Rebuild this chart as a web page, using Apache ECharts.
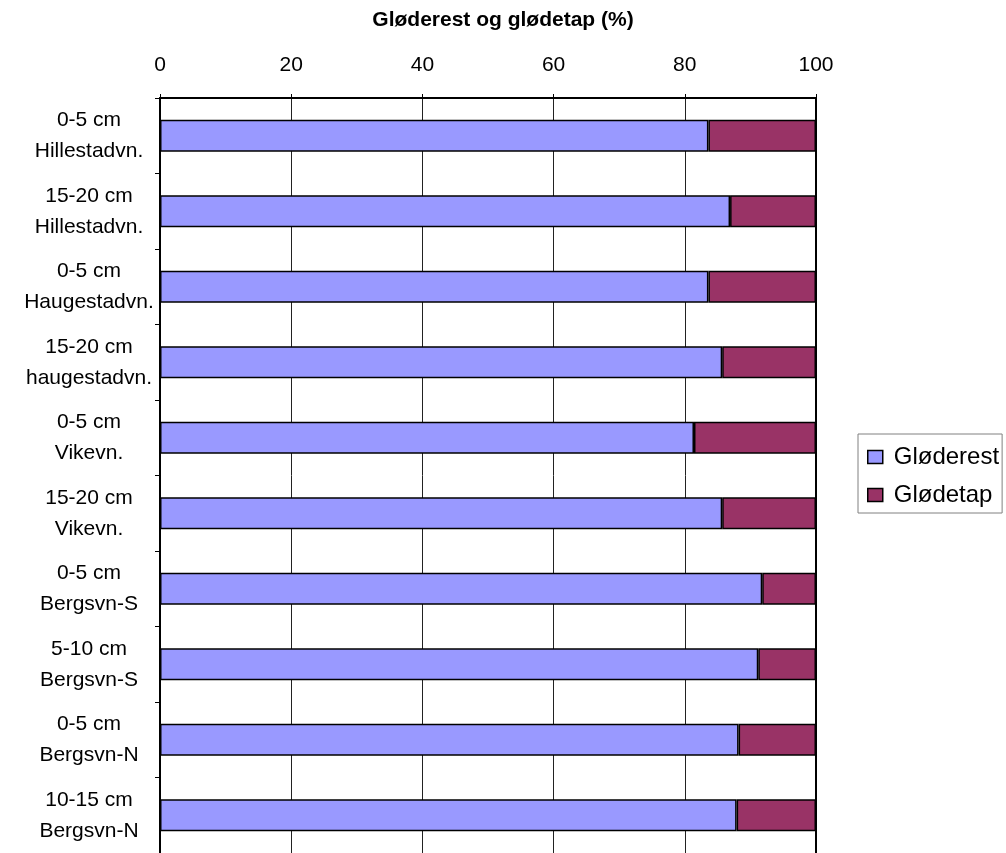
<!DOCTYPE html>
<html>
<head>
<meta charset="utf-8">
<script src="https://cdn.jsdelivr.net/npm/echarts@6/dist/echarts.min.js"></script>
<style>
html,body{margin:0;padding:0;background:#fff;}
#chart{width:1006px;height:853px;}
</style>
</head>
<body>
<div id="chart"></div>
<script>
const categories = [
  "0-5 cm\nHillestadvn.",
  "15-20 cm\nHillestadvn.",
  "0-5 cm\nHaugestadvn.",
  "15-20 cm\nhaugestadvn.",
  "0-5 cm\nVikevn.",
  "15-20 cm\nVikevn.",
  "0-5 cm\nBergsvn-S",
  "5-10 cm\nBergsvn-S",
  "0-5 cm\nBergsvn-N",
  "10-15 cm\nBergsvn-N"
];
const glodeRest = [83.6, 86.9, 83.6, 85.7, 81.4, 85.7, 91.8, 91.2, 88.2, 87.9];
const glodeTap  = [16.4, 13.1, 16.4, 14.3, 18.6, 14.3, 8.2, 8.8, 11.8, 12.1];
const xTicks = [0, 20, 40, 60, 80, 100];

const font = "'Liberation Sans', Arial, sans-serif";
const chart = echarts.init(document.getElementById('chart'));
chart.setOption({
  animation: false,
  backgroundColor: '#fff',
  title: {
    text: 'Gløderest og glødetap (%)',
    left: 'center',
    top: 10,
    padding: 0,
    textStyle: { fontFamily: font, fontSize: 21, fontWeight: 'bold', color: '#000' }
  },
  legend: {
    orient: 'vertical',
    left: 858,
    top: 434,
    padding: [11, 3, 6, 9],
    itemGap: 14,
    itemWidth: 15,
    itemHeight: 13,
    icon: 'rect',
    borderColor: '#808080',
    borderWidth: 1,
    itemStyle: { borderColor: '#000', borderWidth: 1.5 },
    textStyle: { fontFamily: font, fontSize: 24, lineHeight: 24, color: '#000', padding: [0, 0, 0, 6] },
    data: ['Gløderest', 'Glødetap']
  },
  grid: { left: 160, right: 190, top: 98, bottom: -2 },
  xAxis: {
    type: 'value',
    position: 'top',
    min: 0,
    max: 100,
    interval: 20,
    axisLine: { show: true, lineStyle: { color: '#000', width: 2 } },
    axisTick: { show: true, inside: false, length: 4, lineStyle: { color: '#000' } },
    axisLabel: {
      margin: 22,
      fontFamily: font, fontSize: 21, color: '#000',
      formatter: v => xTicks.includes(v) ? String(v) : ''
    },
    splitLine: { show: true, lineStyle: { color: '#222', width: 1 } }
  },
  yAxis: {
    type: 'category',
    inverse: true,
    data: categories,
    axisLine: { show: true, lineStyle: { color: '#000', width: 2 } },
    axisTick: { show: true, inside: false, length: 5, lineStyle: { color: '#000' } },
    axisLabel: {
      margin: 71,
      align: 'center',
      fontFamily: font, fontSize: 21, color: '#000', lineHeight: 31
    }
  },
  series: [
    {
      name: 'Gløderest', type: 'bar', stack: 'total', barWidth: 32,
      data: glodeRest,
      itemStyle: { color: '#9999FF', borderColor: '#000', borderWidth: 1.5 }
    },
    {
      name: 'Glødetap', type: 'bar', stack: 'total', barWidth: 32,
      data: glodeTap,
      itemStyle: { color: '#993366', borderColor: '#000', borderWidth: 1.5 },
      markLine: {
        silent: true,
        symbol: 'none',
        label: { show: false },
        lineStyle: { color: '#000', width: 2, type: 'solid' },
        data: [{ xAxis: 100 }]
      }
    }
  ]
});
</script>
</body>
</html>
